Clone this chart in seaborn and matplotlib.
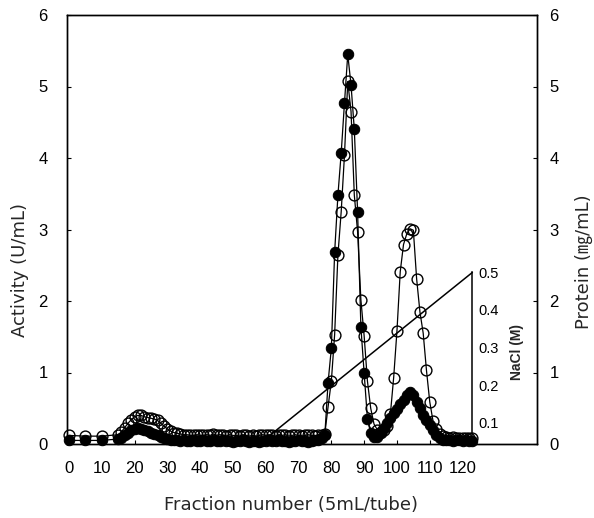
import matplotlib
matplotlib.use('Agg')
import matplotlib.pyplot as plt
import seaborn as sns
import pandas as pd

# ---------------- data ----------------
fractions = [0, 5, 10] + list(range(15, 124))

activity = [0.05, 0.05, 0.05,
            # 15-30
            0.07, 0.09, 0.12, 0.16, 0.19, 0.21, 0.22, 0.21, 0.20, 0.18, 0.16, 0.14, 0.12, 0.10, 0.08, 0.07,
            # 31-40
            0.06, 0.05, 0.05, 0.04, 0.05, 0.04, 0.04, 0.05, 0.04, 0.04,
            # 41-50
            0.05, 0.04, 0.04, 0.05, 0.04, 0.04, 0.05, 0.04, 0.04, 0.03,
            # 51-60
            0.04, 0.04, 0.05, 0.04, 0.03, 0.04, 0.04, 0.03, 0.04, 0.04,
            # 61-70
            0.05, 0.04, 0.04, 0.05, 0.04, 0.04, 0.03, 0.04, 0.04, 0.05,
            # 71-78
            0.04, 0.04, 0.03, 0.04, 0.05, 0.06, 0.08, 0.12,
            # 79-91
            0.86, 1.34, 2.68, 3.48, 4.07, 4.77, 5.45, 5.02, 4.40, 3.25, 1.64, 0.99, 0.35,
            # 92-104
            0.15, 0.10, 0.10, 0.15, 0.22, 0.30, 0.37, 0.43, 0.49, 0.56, 0.62, 0.68, 0.73,
            # 105-114
            0.68, 0.59, 0.50, 0.41, 0.33, 0.26, 0.19, 0.12, 0.08, 0.06,
            # 115-123
            0.05, 0.05, 0.04, 0.05, 0.05, 0.04, 0.05, 0.04, 0.04]

protein = [0.12, 0.11, 0.11,
           # 15-30
           0.13, 0.17, 0.23, 0.29, 0.34, 0.38, 0.40, 0.40, 0.38, 0.37, 0.36, 0.35, 0.33, 0.29, 0.25, 0.21,
           # 31-40
           0.18, 0.16, 0.15, 0.14, 0.13, 0.13, 0.12, 0.12, 0.13, 0.12,
           # 41-50
           0.12, 0.13, 0.12, 0.14, 0.12, 0.13, 0.12, 0.11, 0.13, 0.12,
           # 51-60
           0.12, 0.11, 0.13, 0.12, 0.11, 0.12, 0.11, 0.12, 0.13, 0.12,
           # 61-70
           0.13, 0.12, 0.11, 0.13, 0.12, 0.13, 0.11, 0.12, 0.13, 0.12,
           # 71-78
           0.11, 0.12, 0.13, 0.12, 0.11, 0.13, 0.13, 0.14,
           # 79-91
           0.52, 0.88, 1.53, 2.64, 3.25, 4.04, 5.07, 4.65, 3.48, 2.97, 2.02, 1.51, 0.88,
           # 92-104
           0.50, 0.28, 0.20, 0.17, 0.20, 0.25, 0.42, 0.93, 1.58, 2.41, 2.79, 2.94, 3.01,
           # 105-114
           2.99, 2.31, 1.85, 1.55, 1.03, 0.59, 0.32, 0.21, 0.14, 0.11,
           # 115-123
           0.10, 0.09, 0.10, 0.09, 0.08, 0.09, 0.08, 0.08, 0.08]

gradient_fraction = [58, 123]
gradient_nacl = [0.043, 0.5]

x_ticks = [0, 10, 20, 30, 40, 50, 60, 70, 80, 90, 100, 110, 120]
y_ticks = [0, 1, 2, 3, 4, 5, 6]
nacl_ticks = [0.1, 0.2, 0.3, 0.4, 0.5]

df = pd.DataFrame({'fraction': fractions, 'activity': activity, 'protein': protein})
grad = pd.DataFrame({'fraction': gradient_fraction, 'nacl': gradient_nacl})

# ---------------- style ----------------
sns.set_style('ticks')
plt.rcParams['font.family'] = ['Liberation Sans', 'Noto Sans CJK KR']
plt.rcParams['axes.linewidth'] = 1.0
plt.rcParams['axes.edgecolor'] = 'black'

fig = plt.figure(figsize=(5.94, 5.18), dpi=100)
ax = fig.add_axes([67 / 594, 74 / 518, 470 / 594, 429 / 518])

sns.lineplot(data=df, x='fraction', y='activity', ax=ax, color='black', lw=0.9,
             marker='o', markersize=7.5, markerfacecolor='black', markeredgecolor='black',
             estimator=None, clip_on=False, zorder=3)
ax.set_xlim(-0.6, 142.7)
ax.set_ylim(0, 6)
ax.set_xticks(x_ticks)
ax.set_yticks(y_ticks)
ax.set_xlabel('')
ax.set_ylabel('')
ax.tick_params(axis='both', direction='in', length=3, width=0.8, labelsize=12, colors='black')
ax.tick_params(axis='y', pad=14)
ax.tick_params(axis='x', pad=12)
for s in ax.spines.values():
    s.set_color('black')
    s.set_linewidth(1.0)

ax2 = ax.twinx()
sns.lineplot(data=df, x='fraction', y='protein', ax=ax2, color='black', lw=0.9,
             marker='o', markersize=7.8, markerfacecolor='none', markeredgecolor='black',
             markeredgewidth=1.0, estimator=None, clip_on=False, zorder=4)
ax2.set_ylim(0, 6)
ax2.set_yticks(y_ticks)
ax2.set_ylabel('')
ax2.tick_params(axis='y', direction='in', length=3, width=0.8, labelsize=12, pad=9, colors='black')

ax3 = ax.twinx()
sns.lineplot(data=grad, x='fraction', y='nacl', ax=ax3, color='black', lw=1.1, estimator=None)
ax3.set_ylim(0.0429, 1.1857)
ax3.set_yticks(nacl_ticks)
ax3.set_yticklabels(['0.1', '0.2', '0.3', '0.4', '0.5'])
ax3.set_ylabel('')
for side in ['top', 'bottom', 'left']:
    ax3.spines[side].set_visible(False)
ax3.spines['right'].set_position(('data', 123))
ax3.spines['right'].set_bounds(0.0429, 0.5)
ax3.spines['right'].set_linewidth(1.1)
ax3.tick_params(axis='y', direction='in', length=0, labelsize=10.5, pad=4, colors='black')
ax3.set_xlim(-0.6, 142.7)

label_family = ['DejaVu Sans', 'Noto Sans CJK KR']
fig.text(20 / 594, 1 - 270 / 518, 'Activity (U/mL)', rotation=90, ha='center', va='center',
         fontsize=13, family=label_family)
fig.text(584 / 594, 1 - 262 / 518, 'Protein (㎎/mL)', rotation=90, ha='center', va='center',
         fontsize=13, family=label_family)
fig.text(517 / 594, 1 - 352 / 518, 'NaCl (M)', rotation=90, ha='center', va='center',
         fontsize=10, fontweight='bold')
fig.text(291 / 594, 1 - 505 / 518, 'Fraction number (5mL/tube)', ha='center', va='center',
         fontsize=13, family=label_family)

fig.savefig('out.png', dpi=100)
